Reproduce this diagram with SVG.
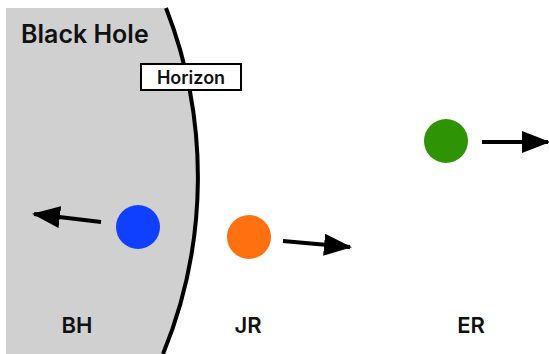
<svg xmlns="http://www.w3.org/2000/svg" width="549" height="354" viewBox="0 0 549 354">
<defs>
<style>
.lbl{font-family:Inter,"Liberation Sans",sans-serif;font-weight:600;fill:#111;text-anchor:middle}
.arr{stroke:#000;stroke-width:4;fill:none;marker-end:url(#ah)}
</style>
<marker id="ah" markerWidth="7" markerHeight="5.5" refX="6.5" refY="2.75" orient="auto" markerUnits="strokeWidth">
<path d="M0,0 L7,2.75 L0,5.5 Z" fill="#000"/>
</marker>
</defs>
<rect width="549" height="354" fill="#fff"/>
<g id="blackhole">
<path d="M6 8 L166 8 A465 465 0 0 1 163 354 L6 354 Z" fill="#d0d0d0"/>
<path d="M166 8 A465 465 0 0 1 163 354" fill="none" stroke="#000" stroke-width="4"/>
<text x="21" y="43" font-size="25" class="lbl" style="text-anchor:start">Black Hole</text>
</g>
<g id="horizon">
<rect x="141" y="64" width="100" height="26" fill="#fff" stroke="#000" stroke-width="2"/>
<text x="191" y="83.5" font-size="18" class="lbl">Horizon</text>
</g>
<g id="BH">
<circle cx="138" cy="227" r="22" fill="#1040ff"/>
<text x="77" y="333" font-size="22" class="lbl">BH</text>
</g>
<g id="JR">
<circle cx="249" cy="237" r="22" fill="#ff7010"/>
<text x="248" y="333" font-size="22" class="lbl">JR</text>
</g>
<g id="ER">
<circle cx="446" cy="141" r="22" fill="#2f9405"/>
<text x="471" y="333" font-size="22" class="lbl">ER</text>
</g>
<g id="connectors">
<line class="arr" x1="101" y1="222" x2="34" y2="214"/>
<line class="arr" x1="283" y1="241" x2="350" y2="247"/>
<line class="arr" x1="482" y1="142" x2="548" y2="142"/>
</g>
</svg>
